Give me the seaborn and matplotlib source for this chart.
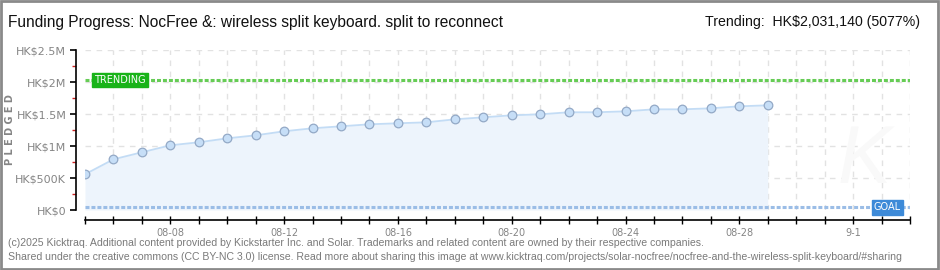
import matplotlib
matplotlib.use("Agg")
import matplotlib.pyplot as plt
import matplotlib.dates as mdates
import matplotlib.ticker as mticker
from matplotlib.patches import Rectangle
import seaborn as sns
import pandas as pd
import numpy as np

# ---- data ----
dates = ["2025-08-05", "2025-08-06", "2025-08-07", "2025-08-08", "2025-08-09",
         "2025-08-10", "2025-08-11", "2025-08-12", "2025-08-13", "2025-08-14",
         "2025-08-15", "2025-08-16", "2025-08-17", "2025-08-18", "2025-08-19",
         "2025-08-20", "2025-08-21", "2025-08-22", "2025-08-23", "2025-08-24",
         "2025-08-25", "2025-08-26", "2025-08-27", "2025-08-28", "2025-08-29"]
pledged = [558000, 792000, 902000, 1011000, 1058000,
           1120000, 1167000, 1230000, 1277000, 1308000,
           1339000, 1355000, 1370000, 1417000, 1448000,
           1480000, 1495000, 1527000, 1527000, 1542000,
           1573000, 1573000, 1589000, 1620000, 1636000]
trending = 2031140
goal = 40000
x_start, x_end = "2025-08-05", "2025-09-03"
xtick_dates = ["2025-08-08", "2025-08-12", "2025-08-16", "2025-08-20",
               "2025-08-24", "2025-08-28", "2025-09-01"]
xtick_labels = ["08-08", "08-12", "08-16", "08-20", "08-24", "08-28", "9-1"]
ytick_values = [0, 500000, 1000000, 1500000, 2000000, 2500000]
ytick_labels = ["HK$0", "HK$500K", "HK$1M", "HK$1.5M", "HK$2M", "HK$2.5M"]
title = "Funding Progress: NocFree &: wireless split keyboard. split to reconnect"
trend_text = "Trending:  HK$2,031,140 (5077%)"
footer1 = ("(c)2025 Kicktraq. Additional content provided by Kickstarter Inc. and Solar. "
           "Trademarks and related content are owned by their respective companies.")
footer2 = ("Shared under the creative commons (CC BY-NC 3.0) license. Read more about sharing "
           "this image at www.kicktraq.com/projects/solar-nocfree/nocfree-and-the-wireless-split-keyboard/#sharing")

df = pd.DataFrame({"date": pd.to_datetime(dates), "pledged": pledged})

sns.set_theme(style="white")
FONT = ["Liberation Sans", "DejaVu Sans"]
plt.rcParams["font.family"] = FONT

fig = plt.figure(figsize=(9.4, 2.7), dpi=100)
fig.patch.set_facecolor("white")
ax = fig.add_axes([85 / 940, 1 - 210 / 270, (910 - 85) / 940, 160 / 270])
ax.set_facecolor("white")

x0 = pd.Timestamp(x_start)
x1 = pd.Timestamp(x_end)
ax.set_xlim(x0, x1)
ax.set_ylim(0, 2500000)

# grid
day_ticks = pd.date_range(x0, x1, freq="D")
for d in day_ticks[1:]:
    ax.axvline(d, color="#e2e2e2", lw=1, ls=(0, (4, 4)), zorder=0)
for v in ytick_values[1:]:
    ax.axhline(v, color="#e2e2e2", lw=1, ls=(0, (4, 4)), zorder=0)

# watermark
ax.text(x0 + pd.Timedelta(days=27.4), 750000, "K", fontsize=58, color="#f9f9f9",
        style="italic", ha="center", va="center", zorder=0.5)

# fill + line
ax.fill_between(df["date"], df["pledged"], 0, color="#edf4fc", zorder=1, lw=0)
sns.lineplot(data=df, x="date", y="pledged", ax=ax, color="#c3dcf5", lw=1.3,
             marker="o", markersize=6.2, markerfacecolor="#c6def7",
             markeredgecolor="#93a9c6", markeredgewidth=0.9, zorder=3)

# trending & goal lines
ax.axhline(trending, color="#66cc55", lw=2.2, ls=(0, (1.3, 0.65)), zorder=2)
ax.axhline(goal, color="#9bbde6", lw=2.2, ls=(0, (1.3, 0.65)), zorder=2)

ax.text(x0 + pd.Timedelta(days=1.23), trending, "TRENDING", color="white",
        fontsize=7, ha="center", va="center", zorder=5, family="DejaVu Sans",
        bbox=dict(boxstyle="square,pad=0.22", fc="#19b319", ec="#19b319"))
ax.text(x0 + pd.Timedelta(days=28.2), goal, "GOAL", color="white",
        fontsize=7, ha="center", va="center", zorder=5, family="DejaVu Sans",
        bbox=dict(boxstyle="square,pad=0.22", fc="#3d8ad8", ec="#3d8ad8"))

# axes styling
for s in ["top", "right"]:
    ax.spines[s].set_visible(False)
ax.spines["left"].set_position(("outward", 6.5))
ax.spines["bottom"].set_position(("outward", 7.2))
ax.spines["left"].set_color("black")
ax.spines["bottom"].set_color("black")
ax.spines["left"].set_linewidth(1.2)
ax.spines["bottom"].set_linewidth(1.2)

ax.set_yticks(ytick_values)
ax.set_yticklabels(ytick_labels, family="DejaVu Sans")
ax.yaxis.set_minor_locator(mticker.FixedLocator([250000, 750000, 1250000, 1750000, 2250000]))
ax.tick_params(axis="y", which="major", direction="out", length=4, width=1.2,
               color="black", labelsize=8, labelcolor="#858585", pad=3, left=True)
ax.tick_params(axis="y", which="minor", direction="out", length=3, width=1,
               color="#cc2222", left=True)

ax.xaxis.set_major_locator(mticker.FixedLocator(mdates.date2num(pd.to_datetime(xtick_dates))))
ax.set_xticklabels(xtick_labels, family="DejaVu Sans")
ax.xaxis.set_minor_locator(mticker.FixedLocator(mdates.date2num(day_ticks)))
ax.tick_params(axis="x", which="both", direction="inout", length=6, width=1,
               color="black", labelsize=7, labelcolor="#858585", pad=3, bottom=True)
ax.set_xlabel("")
ax.set_ylabel("")

fig.text(10 / 940, 1 - 130 / 270, "P L E D G E D", rotation=90, fontsize=7,
         color="#858585", ha="center", va="center", fontweight="bold",
         family="DejaVu Sans")

fig.text(8 / 940, 1 - 22 / 270, title, fontsize=11.2, color="#111111",
         ha="left", va="center")
fig.text(920 / 940, 1 - 22 / 270, trend_text, fontsize=10.2, color="#111111",
         ha="right", va="center")
fig.text(8 / 940, 1 - 243 / 270, footer1, fontsize=7.6, color="#7a7a7a",
         ha="left", va="center")
fig.text(8 / 940, 1 - 257 / 270, footer2, fontsize=7.6, color="#7a7a7a",
         ha="left", va="center")

# border
fig.patches.append(Rectangle((0.001, 0.002), 0.997, 0.995, transform=fig.transFigure,
                             fill=False, ec="#8a8a8a", lw=2, zorder=10))

fig.savefig("out.png", dpi=100, facecolor="white")
